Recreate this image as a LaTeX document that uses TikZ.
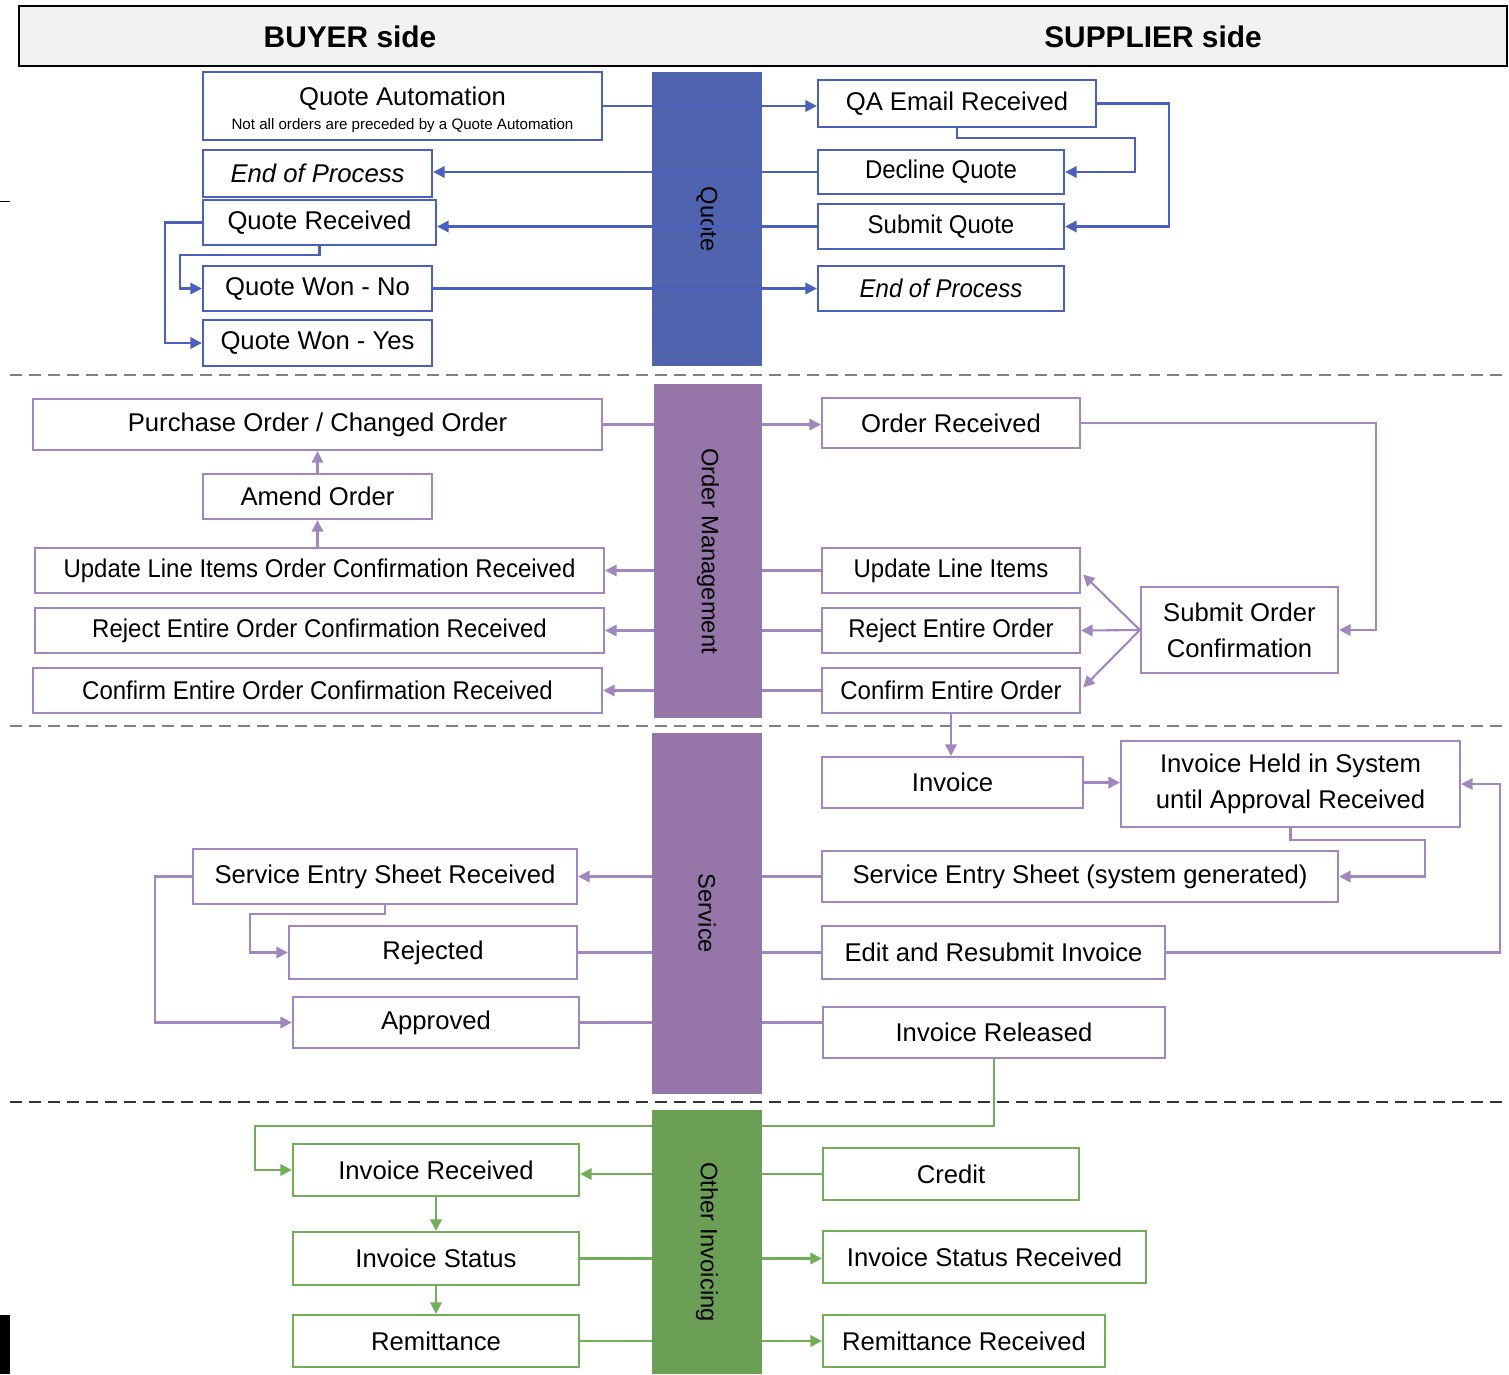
\documentclass[tikz,border=0pt]{standalone}
\usepackage{fontspec}
\setmainfont{Liberation Sans}
\newfontfamily\narrowfont{Liberation Sans}[FakeStretch=0.935]
\usetikzlibrary{arrows.meta,calc}
\definecolor{qtblue}{HTML}{5063AF}
\definecolor{qtline}{HTML}{4A60BC}
\definecolor{ombar}{HTML}{9676A9}
\definecolor{omline}{HTML}{A088BE}
\definecolor{oibar}{HTML}{6A9F55}
\definecolor{oiline}{HTML}{72AD58}
\definecolor{hdrgray}{HTML}{F2F2F2}

\begin{document}
\begin{tikzpicture}[
  x=0.02cm, y=-0.02cm,
  wh/.style 2 args={minimum width=#1*0.02cm, minimum height=#2*0.02cm},
  box/.style={draw, fill=white, line width=1.3pt, inner sep=1pt, align=center,
    font=\fontsize{14.6}{20.4}\selectfont},
  narrow/.style={font=\narrowfont\fontsize{14.6}{20.4}\selectfont},
  qbox/.style={box, draw=qtline},
  obox/.style={box, draw=omline},
  gbox/.style={box, draw=oiline},
  tip/.style={-{Triangle[length=6.5pt,width=6.5pt]}},
  qflow/.style={draw=qtline, line width=1.2pt},
  oflow/.style={draw=omline, line width=1.2pt},
  gflow/.style={draw=oiline, line width=1.2pt},
  lane/.style={rotate=-90, inner sep=0pt, font=\fontsize{13.5}{16}\selectfont},
  sep/.style={dash pattern=on 6.8pt off 4pt, line width=1.1pt},
  side/.style={font=\fontsize{17}{20}\selectfont\bfseries}
]
  \useasboundingbox (0,0) rectangle (1509,1374);
  \draw[black, line width=0.5pt] (0,201) -- (10,201);
  \fill[black] (0,1315) rectangle (10,1374);

  \draw[fill=hdrgray, line width=1pt] (19,6) rectangle (1507,66);
  \node[side] (buyer) at (350,37) {BUYER side};
  \node[side] (supplier) at (1153,37) {SUPPLIER side};

  \draw[sep, black!50] (10,375) -- (1509,375);
  \draw[sep, black!50] (10,726) -- (1509,726);
  \draw[sep, black!80] (10,1102) -- (1509,1102);

  \node[lane, fill=qtblue, wh={294}{110}] (qbar) at (707,219) {Quote};

  \node[qbox, wh={399}{68}] (qauto) at (402.5,106)
    {\rule{0pt}{15pt}Quote Automation\\[-6.5pt]{\fontsize{8.6}{10}\selectfont Not all orders are preceded by a Quote Automation}};
  \node[qbox, wh={229}{47}, font=\fontsize{14.6}{20.4}\selectfont\itshape] (endbuy) at (317.5,173.5) {End of Process};
  \node[qbox, wh={233}{45}] (qrec) at (319.5,222.5) {Quote Received};
  \node[qbox, wh={229}{45}] (wonno) at (317.5,288.5) {Quote Won - No};
  \node[qbox, wh={229}{46}] (wonyes) at (317.5,343) {Quote Won - Yes};
  \node[qbox, wh={278}{47}] (qaemail) at (957,103.5) {QA Email Received};
  \node[qbox, narrow, wh={246}{44}] (decline) at (941,172) {Decline Quote};
  \node[qbox, narrow, wh={246}{45}] (submitq) at (941,226.5) {Submit Quote};
  \node[qbox, wh={246}{45}, font=\narrowfont\fontsize{14.6}{20.4}\selectfont\itshape] (endsup) at (941,288.5) {End of Process};

  \draw[qflow, tip] (qauto.east) -- (qauto.east -| qaemail.west);
  \draw[qflow, tip] (qaemail.south) |- (1135,138) |- (decline.east);
  \draw[qflow, tip] (qaemail.east) -- (1169,103.5) |- (submitq.east);
  \draw[qflow, tip] (decline.west) -- (decline.west -| endbuy.east);
  \draw[qflow, tip] (submitq.west) -- (submitq.west -| qrec.east);
  \draw[qflow, tip] (qrec.south) |- (180,255) |- (wonno.west);
  \draw[qflow, tip] (qrec.west) -- (165,222.5) |- (wonyes.west);
  \draw[qflow, tip] (wonno.east) -- (wonno.east -| endsup.west);

  \node[obox, wh={569}{51}] (po) at (317.5,424.5) {Purchase Order / Changed Order};
  \node[obox, wh={229}{45}] (amend) at (317.5,496.5) {Amend Order};
  \node[obox, narrow, wh={569}{45}] (uliocr) at (319.5,570.5) {Update Line Items Order Confirmation Received};
  \node[obox, narrow, wh={569}{45}] (reocr) at (319.5,630.5) {Reject Entire Order Confirmation Received};
  \node[obox, narrow, wh={569}{45}] (ceocr) at (317.5,690.5) {Confirm Entire Order Confirmation Received};
  \node[obox, wh={258}{50}] (orec) at (951,423) {Order Received};
  \node[obox, narrow, wh={258}{45}] (uli) at (951,570.5) {Update Line Items};
  \node[obox, narrow, wh={258}{45}] (reo) at (951,630.5) {Reject Entire Order};
  \node[obox, narrow, wh={258}{45}] (ceo) at (951,690.5) {Confirm Entire Order};
  \node[obox, wh={197}{86}] (soc) at (1239.5,630) {Submit Order\\Confirmation};

  \draw[oflow, tip] (po.east) -- (po.east -| orec.west);
  \draw[oflow, tip] (orec.east) -- (1376,423) |- (soc.east);
  \draw[oflow, tip] (soc.west) -- ($(uli.east)+(2,4)$);
  \draw[oflow, tip] (soc.west) -- (reo.east);
  \draw[oflow, tip] (soc.west) -- ($(ceo.east)+(2,-3)$);
  \draw[oflow, tip] (uli.west) -- (uliocr.east);
  \draw[oflow, tip] (reo.west) -- (reocr.east);
  \draw[oflow, tip] (ceo.west) -- (ceocr.east);
  \draw[oflow, tip] (amend.south |- uliocr.north) -- (amend.south);
  \draw[oflow, tip] (amend.north) -- (po.south);

  \node[obox, wh={261}{51}] (inv) at (952.5,782.5) {Invoice};
  \node[obox, wh={339}{86}] (ihs) at (1290.5,784) {Invoice Held in System\\until Approval Received};
  \node[obox, wh={516}{51}] (ses) at (1080,876.5) {Service Entry Sheet (system generated)};
  \node[obox, wh={343}{53}] (edit) at (993.5,952.5) {Edit and Resubmit Invoice};
  \node[obox, wh={342}{51}] (irel) at (994,1032.5) {Invoice Released};
  \node[obox, wh={384}{55}] (sesr) at (385,876.5) {Service Entry Sheet Received};
  \node[obox, wh={288}{53}] (rej) at (433,952.5) {Rejected};
  \node[obox, wh={286}{51}] (appr) at (436,1022.5) {Approved};

  \draw[oflow, tip] (ceo.south) -- (ceo.south |- inv.north);
  \draw[oflow, tip] (inv.east) -- (inv.east -| ihs.west);
  \draw[oflow, tip] (ihs.south) |- (1425,840) |- (ses.east);
  \draw[oflow, tip] (edit.east) -- (1500,952.5) |- (ihs.east);
  \draw[oflow, tip] (ses.west) -- (ses.west -| sesr.east);
  \draw[oflow] (rej.east) -- (edit.west);
  \draw[oflow] (appr.east) -- (appr.east -| irel.west);
  \draw[oflow, tip] (sesr.south) |- (250,914) |- (rej.west);
  \draw[oflow, tip] (sesr.west) -- (155,876.5) |- (appr.west);

  \node[gbox, wh={286}{52}] (irec) at (436,1170) {Invoice Received};
  \node[gbox, wh={286}{53}] (istat) at (436,1258.5) {Invoice Status};
  \node[gbox, wh={286}{52}] (remit) at (436,1341) {Remittance};
  \node[gbox, wh={256}{52}] (credit) at (951,1174) {Credit};
  \node[gbox, wh={323}{52}] (isrec) at (984.5,1257) {Invoice Status Received};
  \node[gbox, wh={282}{52}] (rrec) at (964,1341) {Remittance Received};

  \draw[gflow, tip] (irel.south) |- (255,1126) |- (irec.west);
  \draw[gflow, tip] (credit.west) -- (credit.west -| irec.east);
  \draw[gflow, tip] (istat.east) -- (istat.east -| isrec.west);
  \draw[gflow, tip] (remit.east) -- (rrec.west);
  \draw[gflow, tip] (irec.south) -- (istat.north);
  \draw[gflow, tip] (istat.south) -- (remit.north);

  \node[lane, fill=ombar, wh={334}{108}] (ombar) at (708,551) {Order Management};
  \node[lane, fill=ombar, wh={361}{110}] (svbar) at (707,913.5) {Service};
  \node[lane, fill=oibar, wh={264}{110}] (oibar) at (707,1242) {Other Invoicing};
\end{tikzpicture}
\end{document}
